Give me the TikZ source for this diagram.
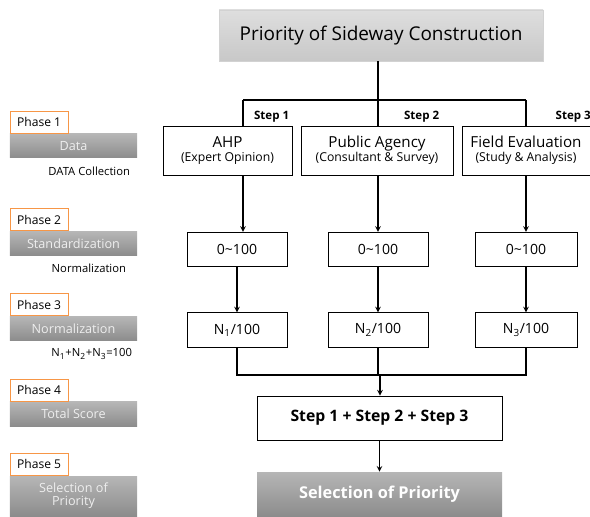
\documentclass[tikz,border=0pt]{standalone}
\usepackage{fontspec}
\setmainfont{Open Sans}
\usetikzlibrary{positioning,calc}
\definecolor{phaseorange}{RGB}{247,150,70}
\definecolor{barlight}{RGB}{182,182,182}
\definecolor{bardark}{RGB}{140,140,140}
\definecolor{bartext}{RGB}{238,238,238}
\definecolor{titlelight}{RGB}{222,222,222}
\definecolor{titledark}{RGB}{200,200,200}

\begin{document}
\begin{tikzpicture}[
    titlebox/.style={rectangle, draw=gray!35, top color=titlelight, bottom color=titledark,
                     minimum width=8.1cm, minimum height=1.275cm,
                     font=\fontsize{13.5}{16}\selectfont},
    stepbox/.style={rectangle, draw=black, fill=white, minimum height=1.225cm,
                    align=center, line width=0.6pt, inner sep=1pt,
                    font=\fontsize{10.8}{12}\selectfont},
    valbox/.style={rectangle, draw=black, fill=white, minimum width=2.5cm,
                   minimum height=0.86cm, line width=0.6pt,
                   font=\fontsize{10}{12}\selectfont},
    sumbox/.style={rectangle, draw=black, fill=white, minimum width=6.125cm,
                   minimum height=1.1cm, line width=0.6pt,
                   font=\bfseries\fontsize{11.2}{13}\selectfont},
    selbox/.style={rectangle, top color=barlight, bottom color=bardark, text=white,
                   minimum width=6.125cm, minimum height=1.1cm,
                   font=\bfseries\fontsize{11.6}{14}\selectfont},
    phaselabel/.style={rectangle, draw=phaseorange, fill=white, minimum width=1.45cm,
                       minimum height=0.55cm, line width=0.6pt, inner sep=1pt,
                       font=\fontsize{8.6}{10}\selectfont},
    phasebar/.style={rectangle, top color=barlight, bottom color=bardark, text=bartext,
                     minimum width=3.175cm, minimum height=0.6cm, align=center,
                     font=\fontsize{9}{11}\selectfont},
    sidenote/.style={anchor=east, font=\fontsize{8}{9}\selectfont},
    steplabel/.style={font=\bfseries\fontsize{8.2}{10}\selectfont},
    arrow/.style={->, >=stealth, line width=0.8pt},
    link/.style={line width=0.8pt}
]
\useasboundingbox (0,0) rectangle (14.75,12.9);

% title
\node[titlebox] (title) at (9.525,12.0125) {Priority of Sideway Construction};

% steps
\node[stepbox, minimum width=3.225cm] (ahp) at (5.6875,9.1375)
    {AHP\\[-2pt]{\fontsize{8.7}{10}\selectfont (Expert Opinion)}};
\node[stepbox, minimum width=3.8cm] (agency) at (9.425,9.1375)
    {Public Agency\\[-2pt]{\fontsize{8.7}{10}\selectfont (Consultant \& Survey)}};
\node[stepbox, minimum width=3.2cm] (field) at (13.15,9.1375)
    {Field Evaluation\\[-2pt]{\fontsize{8.7}{10}\selectfont (Study \& Analysis)}};

\node[steplabel] (s1) at (6.79,9.975) {Step 1};
\node[steplabel] (s2) at (10.54,9.975) {Step 2};
\node[steplabel] (s3) at (14.33,9.975) {Step 3};

\coordinate (c1) at (6.075,10.4);
\coordinate (c2) at (9.45,10.4);
\coordinate (c3) at (13.15,10.4);

\draw[link] (title.south -| c2) -- (c2);
\draw[link] (c1) -- (c3);
\draw[link] (c1) -- (c1 |- ahp.north);
\draw[link] (c2) -- (c2 |- agency.north);
\draw[link] (c3) -- (c3 |- field.north);

% standardization
\node[valbox] (std1) at (5.925,6.6625) {0\textasciitilde100};
\node[valbox] (std2) at (9.45,6.6625) {0\textasciitilde100};
\node[valbox, minimum width=2.55cm] (std3) at (13.15,6.6625) {0\textasciitilde100};

\draw[arrow] (ahp.south -| c1) -- (std1.north -| c1);
\draw[arrow] (agency.south -| c2) -- (std2.north -| c2);
\draw[arrow] (field.south -| c3) -- (std3.north -| c3);

% normalization
\node[valbox] (norm1) at (5.925,4.65) {N\textsubscript{1}/100};
\node[valbox] (norm2) at (9.45,4.65) {N\textsubscript{2}/100};
\node[valbox, minimum width=2.55cm] (norm3) at (13.15,4.65) {N\textsubscript{3}/100};

\draw[arrow] (std1) -- (norm1);
\draw[arrow] (std2) -- (norm2);
\draw[arrow] (std3) -- (norm3);

% total
\node[sumbox] (total) at (9.4875,2.45) {Step 1 + Step 2 + Step 3};
\node[selbox] (select) at (9.4875,0.55) {Selection of Priority};

\coordinate (merge) at (9.5,3.525);
\draw[link] (norm1.south) -- (norm1.south |- merge) -- (norm3.south |- merge) -- (norm3.south);
\draw[link] (norm2.south) -- (norm2.south |- merge);
\draw[arrow] (merge) -- (merge |- total.north);
\draw[arrow] (total) -- (select);

% phases
\node[phasebar] (b1) at (1.8375,9.25) {Data};
\node[phaselabel, above right=0pt and 0pt of b1.north west] (p1) {Phase 1};
\node[sidenote] (n1) at (3.375,8.625) {DATA Collection};

\node[phasebar] (b2) at (1.8375,6.8125) {Standardization};
\node[phaselabel, above right=0pt and 0pt of b2.north west] (p2) {Phase 2};
\node[sidenote] (n2) at (3.275,6.2) {Normalization};

\node[phasebar] (b3) at (1.8375,4.6875) {Normalization};
\node[phaselabel, above right=0pt and 0pt of b3.north west] (p3) {Phase 3};
\node[sidenote] (n3) at (3.425,4.05) {N\textsubscript{1}+N\textsubscript{2}+N\textsubscript{3}=100};

\node[phasebar] (b4) at (1.8375,2.55) {Total Score};
\node[phaselabel, above right=0pt and 0pt of b4.north west] (p4) {Phase 4};

\node[phasebar, minimum height=1.0cm] (b5) at (1.8375,0.5) {Selection of\\[-2pt]Priority};
\node[phaselabel, above right=0pt and 0pt of b5.north west] (p5) {Phase 5};

\end{tikzpicture}
\end{document}
